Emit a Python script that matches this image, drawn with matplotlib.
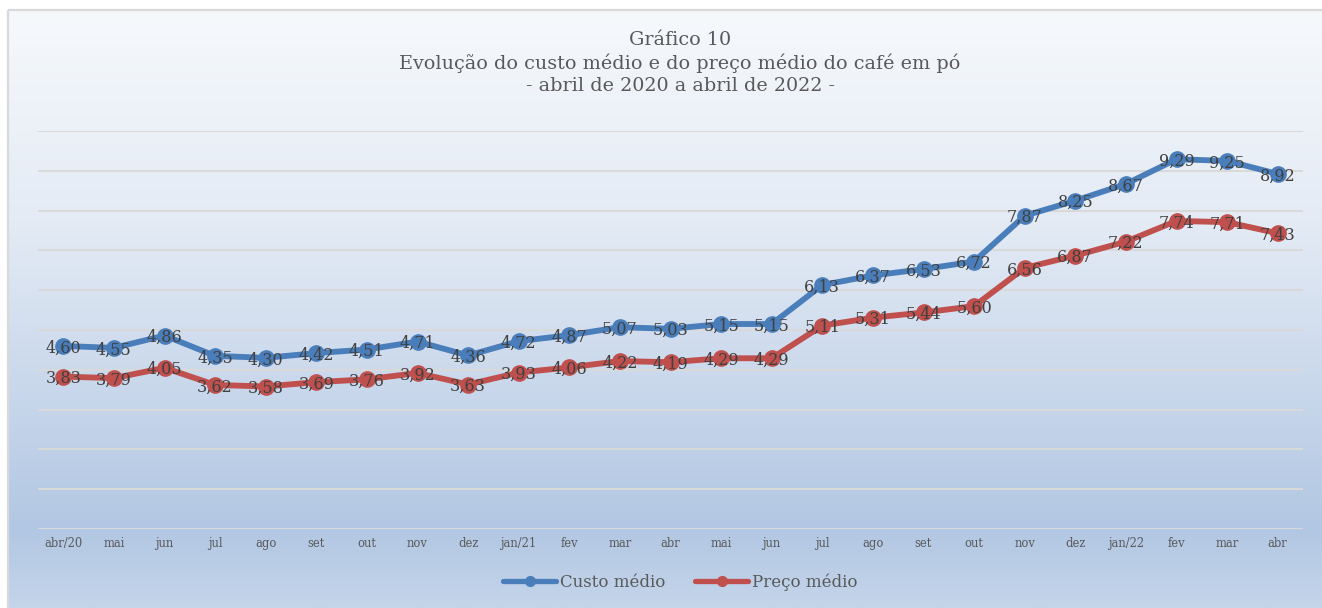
import matplotlib
matplotlib.use("Agg")
import matplotlib.pyplot as plt
import numpy as np
from matplotlib.colors import LinearSegmentedColormap
from matplotlib.patches import Rectangle
from matplotlib.lines import Line2D

categories = ["abr/20", "mai", "jun", "jul", "ago", "set", "out", "nov", "dez",
              "jan/21", "fev", "mar", "abr", "mai", "jun", "jul", "ago", "set",
              "out", "nov", "dez", "jan/22", "fev", "mar", "abr"]
custo = [4.60, 4.55, 4.86, 4.35, 4.30, 4.42, 4.51, 4.71, 4.36, 4.72, 4.87, 5.07,
         5.03, 5.15, 5.15, 6.13, 6.37, 6.53, 6.72, 7.87, 8.25, 8.67, 9.29, 9.25, 8.92]
preco = [3.83, 3.79, 4.05, 3.62, 3.58, 3.69, 3.76, 3.92, 3.63, 3.93, 4.06, 4.22,
         4.19, 4.29, 4.29, 5.11, 5.31, 5.44, 5.60, 6.56, 6.87, 7.22, 7.74, 7.71, 7.43]
series_names = ["Custo médio", "Preço médio"]
title_lines = ["Gráfico 10",
               "Evolução do custo médio e do preço médio do café em pó",
               "- abril de 2020 a abril de 2022 -"]

W, H = 1322, 608
plt.rcParams['font.family'] = ['DejaVu Serif']
fig = plt.figure(figsize=(W / 100, H / 100), dpi=100)
fig.patch.set_facecolor("white")

# background gradient axes (chart area starts at x=8, y=10 px)
bg = fig.add_axes([0, 0, 1, 1])
bg.set_xlim(0, W)
bg.set_ylim(H, 0)
bg.axis("off")
cmap = LinearSegmentedColormap.from_list(
    "g", [(0.0, "#f6f9fc"), (0.35, "#e4ebf5"), (0.87, "#b2c7e3"), (1.0, "#c4d5ea")])
grad = np.linspace(0, 1, 256).reshape(-1, 1)
bg.imshow(grad, cmap=cmap, aspect="auto", extent=[8, W + 40, H, 10], zorder=0)
bg.add_patch(Rectangle((8, 10), W + 40, H + 20, fill=False, edgecolor="#d9d9d9",
                       linewidth=1.6, zorder=1))
bg.set_xlim(0, W)
bg.set_ylim(H, 0)

# titles
for i, t in enumerate(title_lines):
    bg.text(680, 40 + i * 23, t, ha="center", va="center", fontsize=13.8,
            color="#595959")

# main plot axes
left, right, top, bottom = 38, 1303, 131, 529
ax = fig.add_axes([left / W, 1 - bottom / H, (right - left) / W, (bottom - top) / H])
ax.set_facecolor("none")
x = np.arange(len(categories))
ax.set_xlim(-0.5, len(categories) - 0.5)
ax.set_ylim(0, 10)
ax.set_yticks(np.arange(0, 11, 1))
ax.yaxis.grid(True, color="#d9d9d9", linewidth=1.5)
ax.set_axisbelow(True)
for s in ax.spines.values():
    s.set_visible(False)
ax.tick_params(axis="y", left=False, labelleft=False)
ax.set_xticks(x)
ax.set_xticklabels(categories, fontsize=8.3, color="#595959")
ax.tick_params(axis="x", length=0, pad=6)

colors = ["#4a7ebb", "#c0504d"]
for vals, c, name in zip([custo, preco], colors, series_names):
    ax.plot(x, vals, color=c, linewidth=4.2, marker="o", markersize=11,
            solid_capstyle="round", zorder=3, label=name)
    for xi, v in zip(x, vals):
        ax.text(xi, v - 0.05, f"{v:.2f}".replace(".", ","), ha="center", va="center",
                fontsize=11.5, color="#404040", zorder=4)

handles = [Line2D([0], [0], color=c, linewidth=3.8, marker="o", markersize=7,
                  solid_capstyle="round") for c in colors]
fig.legend(handles, series_names, loc="center", bbox_to_anchor=(680 / W, 1 - 582 / H),
           ncol=2, frameon=False, fontsize=12, labelcolor="#595959",
           handlelength=3.2, handletextpad=0.2, columnspacing=1.8)

fig.savefig("out.png", dpi=100)
